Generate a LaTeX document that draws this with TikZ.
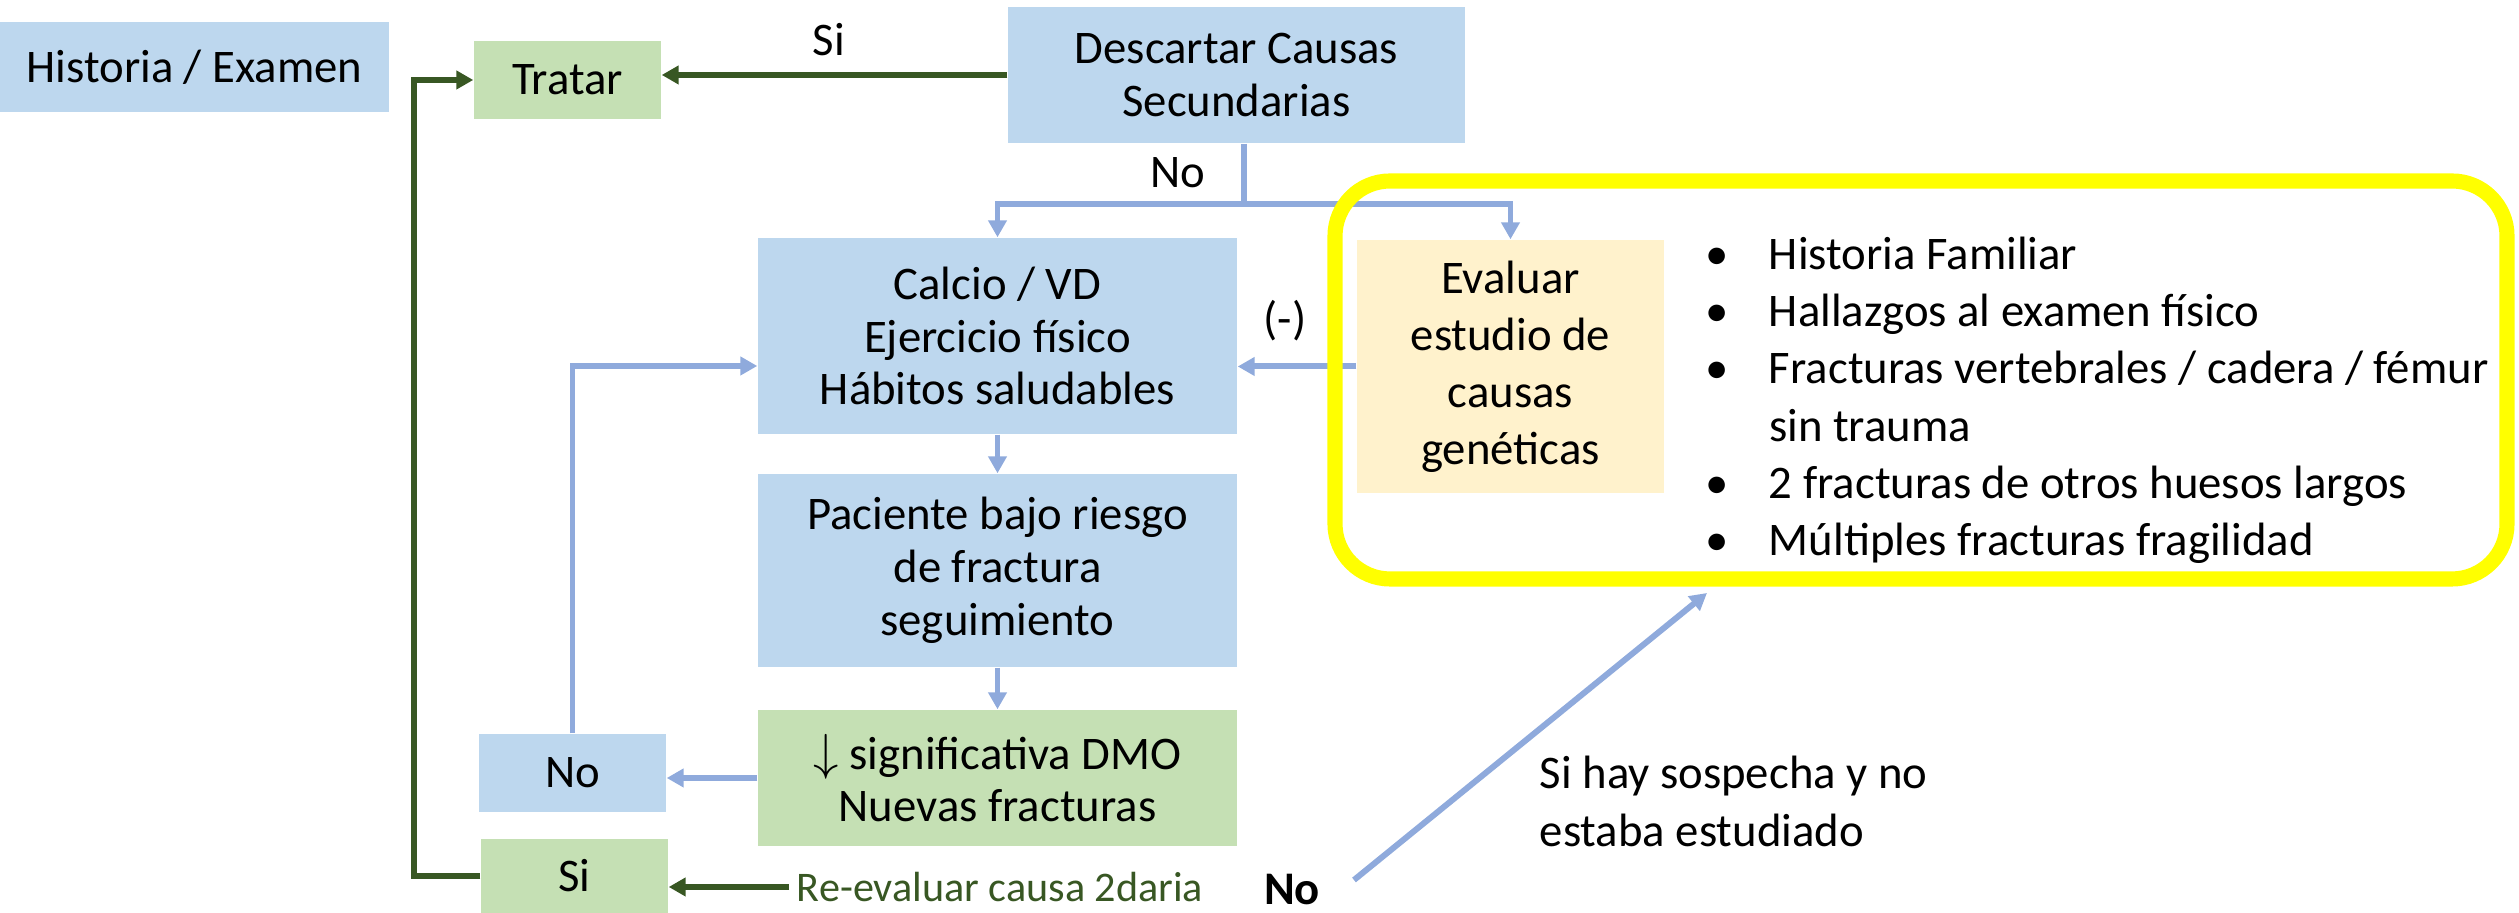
\documentclass[tikz,border=0pt]{standalone}
\usepackage{fontspec}
\setmainfont{Carlito}
\usetikzlibrary{arrows.meta}
\definecolor{boxblue}{HTML}{BDD7EE}
\definecolor{boxgreen}{HTML}{C5E0B4}
\definecolor{boxbeige}{HTML}{FFF2CC}
\definecolor{arrowblue}{HTML}{8FAADC}
\definecolor{darkgreen}{HTML}{385723}
\definecolor{hlyellow}{HTML}{FFFF00}
\begin{document}
\begin{tikzpicture}[
  every node/.style={font=\fontsize{13.3}{15}\selectfont, align=center, inner sep=2pt},
  bluebox/.style={fill=boxblue},
  greenbox/.style={fill=boxgreen},
  bluearrow/.style={draw=arrowblue, line width=1.7pt, -{Triangle[length=0.17cm, width=0.18cm]}},
  greenarrow/.style={draw=darkgreen, line width=1.7pt, -{Triangle[length=0.17cm, width=0.18cm]}}
]
  \useasboundingbox (0,0) rectangle (25.19,9.13);
  % boxes
  \node[bluebox, minimum width=3.89cm, minimum height=0.90cm] (hist) at (1.945,8.46) {Historia / Examen};
  \node[greenbox, minimum width=1.87cm, minimum height=0.78cm] (tratar) at (5.675,8.33) {Tratar};
  \node[bluebox, minimum width=4.57cm, minimum height=1.36cm] (desc) at (12.365,8.38) {Descartar Causas\\Secundarias};
  \node[bluebox, minimum width=4.79cm, minimum height=1.96cm] (calcio) at (9.975,5.77) {Calcio / VD\\Ejercicio físico\\Hábitos saludables};
  \node[bluebox, minimum width=4.79cm, minimum height=1.93cm] (paciente) at (9.975,3.425) {Paciente bajo riesgo\\de fractura\\seguimiento};
  \node[greenbox, minimum width=4.79cm, minimum height=1.36cm] (dmo) at (9.975,1.35) {$\downarrow$ significativa DMO\\Nuevas fracturas};
  \node[bluebox, minimum width=1.87cm, minimum height=0.78cm] (nobox) at (5.725,1.40) {No};
  \node[greenbox, minimum width=1.87cm, minimum height=0.74cm] (sibox) at (5.745,0.37) {Si};
  \node[fill=boxbeige, minimum width=3.07cm, minimum height=2.53cm, font=\fontsize{13.3}{16.2}\selectfont] (evaluar) at (15.105,5.465) {Evaluar\\estudio de\\causas\\genéticas};

  % criterios geneticos
  \node[anchor=west, align=left, font=\fontsize{13.3}{16.3}\selectfont] (lista) at (16.98,5.12) {%
    \begin{tabular}{@{}l@{\hspace{0.4cm}}l@{}}
      • & Historia Familiar\\
      • & Hallazgos al examen físico\\
      • & Fracturas vertebrales / cadera / fémur\\
        & sin trauma\\
      • & 2 fracturas de otros huesos largos\\
      • & Múltiples fracturas fragilidad
    \end{tabular}};

  % labels
  \node (si) at (8.29,8.73) {Si};
  \node (no) at (11.78,7.40) {No};
  \node (menos) at (12.85,5.92) {(-)};
  \node[text=darkgreen, font=\fontsize{12}{14}\selectfont] (reeval) at (10.0,0.26) {Re-evaluar causa 2daria};
  \node[font=\fontsize{13.3}{15}\selectfont\bfseries] (nobold) at (12.92,0.23) {No};
  \node[anchor=west, align=left, font=\fontsize{13.3}{16.3}\selectfont] (sosp) at (15.32,1.115) {Si hay sospecha y no\\estaba estudiado};

  % connectors
  \coordinate (split) at (12.44,7.09);
  \coordinate (sospini) at (13.54,0.33);
  \coordinate (sospfin) at (17.07,3.20);
  \draw[greenarrow, line width=1.8pt] (desc.west) -- (desc.west -| tratar.east);
  \draw[draw=arrowblue, line width=1.7pt] (split |- desc.south) -- (split);
  \draw[bluearrow] (split) -| (calcio.north);
  \draw[bluearrow] (split) -| (evaluar.north);
  \draw[bluearrow] (evaluar.west) -- (evaluar.west -| calcio.east);
  \draw[bluearrow] (calcio.south) -- (paciente.north);
  \draw[bluearrow] (paciente.south) -- (dmo.north);
  \draw[bluearrow] (dmo.west) -- (dmo.west -| nobox.east);
  \draw[bluearrow] (nobox.north) |- ([yshift=-0.3cm]calcio.west);
  \draw[greenarrow] (reeval.west) -- (reeval.west -| sibox.east);
  \draw[greenarrow] (sibox.west) -- ++(-0.66,0) |- (tratar.west);
  \draw[bluearrow] (sospini) -- (sospfin);

  % yellow frame on top of the lines
  \node[draw=hlyellow, line width=4.3pt, rounded corners=0.55cm, minimum width=11.72cm, minimum height=3.98cm] (frame) at (19.21,5.33) {};
\end{tikzpicture}
\end{document}
